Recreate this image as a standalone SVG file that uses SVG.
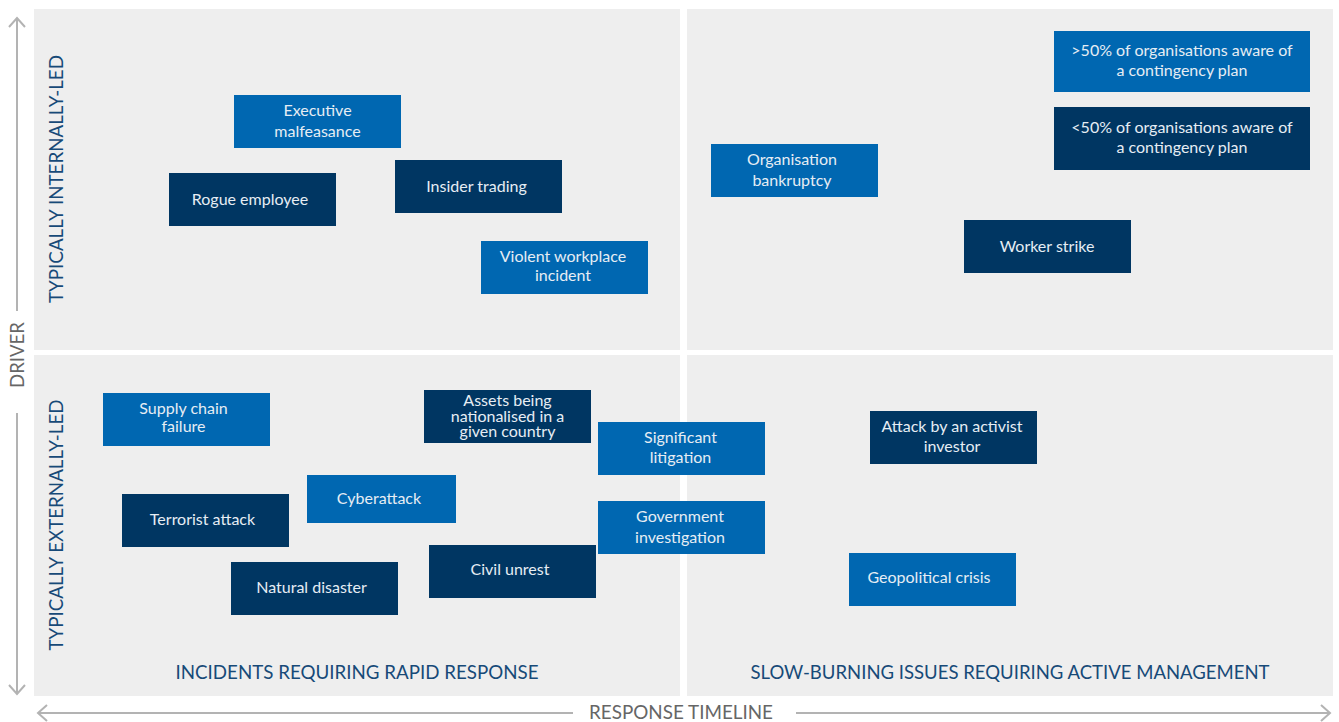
<svg xmlns="http://www.w3.org/2000/svg" width="1339" height="722" viewBox="0 0 1339 722">
  <style>
    .quad { fill: #eeeeee; }
    .mid { fill: #0067b1; }
    .dark { fill: #003662; }
    .lbl { font-family: Lato, "Liberation Sans", sans-serif; font-size: 16px; fill: #e6edf4; text-anchor: middle; }
    .title { font-family: Lato, "Liberation Sans", sans-serif; font-size: 19.5px; fill: #174a78; text-anchor: middle; }
    .axis-lbl { font-family: Lato, "Liberation Sans", sans-serif; font-size: 19px; fill: #666666; text-anchor: middle; }
    .axis { stroke: #b3b3b3; stroke-width: 2; fill: none; }
  </style>

  <rect width="1339" height="722" fill="#ffffff"/>

  <!-- four quadrants -->
  <g id="quadrants">
    <rect class="quad" x="34" y="9" width="646" height="341"/>
    <rect class="quad" x="687" y="9" width="646" height="341"/>
    <rect class="quad" x="34" y="355" width="646" height="341"/>
    <rect class="quad" x="687" y="355" width="646" height="341"/>
  </g>

  <!-- axes with open arrowheads -->
  <g id="axes">
    <path class="axis" d="M17 18 V311 M17 413 V693"/>
    <path class="axis" d="M9 27 L17 18 L25 27"/>
    <path class="axis" d="M9 685 L17 694 L25 685"/>
    <path class="axis" d="M38 713 H573 M796 713 H1330"/>
    <path class="axis" d="M47 705 L38 713 L47 721"/>
    <path class="axis" d="M1321 705 L1330 713 L1321 721"/>
    <text class="axis-lbl" transform="translate(24 355) rotate(-90)" textLength="66" lengthAdjust="spacingAndGlyphs">DRIVER</text>
    <text class="axis-lbl" x="681" y="719" textLength="184" lengthAdjust="spacingAndGlyphs">RESPONSE TIMELINE</text>
  </g>

  <!-- quadrant titles -->
  <g id="titles">
    <text class="title" transform="translate(63 179) rotate(-90)" textLength="248" lengthAdjust="spacingAndGlyphs">TYPICALLY INTERNALLY-LED</text>
    <text class="title" transform="translate(63 525) rotate(-90)" textLength="251" lengthAdjust="spacingAndGlyphs">TYPICALLY EXTERNALLY-LED</text>
    <text class="title" x="357" y="679" textLength="363" lengthAdjust="spacingAndGlyphs">INCIDENTS REQUIRING RAPID RESPONSE</text>
    <text class="title" x="1010" y="679" textLength="519" lengthAdjust="spacingAndGlyphs">SLOW-BURNING ISSUES REQUIRING ACTIVE MANAGEMENT</text>
  </g>

  <!-- legend -->
  <g id="legend-high">
    <rect class="mid" x="1054" y="31" width="256" height="61"/>
    <text class="lbl" x="1182" y="55.5">&gt;50% of organisations aware of</text>
    <text class="lbl" x="1182" y="75.5">a contingency plan</text>
  </g>
  <g id="legend-low">
    <rect class="dark" x="1054" y="107" width="256" height="63"/>
    <text class="lbl" x="1182" y="132.5">&lt;50% of organisations aware of</text>
    <text class="lbl" x="1182" y="152.5">a contingency plan</text>
  </g>

  <!-- internally-led, rapid response -->
  <g id="executive-malfeasance">
    <rect class="mid" x="234" y="95" width="167" height="53"/>
    <text class="lbl" x="317.5" y="116">Executive</text>
    <text class="lbl" x="317.5" y="137">malfeasance</text>
  </g>
  <g id="rogue-employee">
    <rect class="dark" x="169" y="173" width="167" height="53"/>
    <text class="lbl" x="250" y="205">Rogue employee</text>
  </g>
  <g id="insider-trading">
    <rect class="dark" x="395" y="160" width="167" height="53"/>
    <text class="lbl" x="476.5" y="192">Insider trading</text>
  </g>
  <g id="violent-workplace-incident">
    <rect class="mid" x="481" y="241" width="167" height="53"/>
    <text class="lbl" x="563" y="262">Violent workplace</text>
    <text class="lbl" x="563" y="281">incident</text>
  </g>

  <!-- internally-led, active management -->
  <g id="organisation-bankruptcy">
    <rect class="mid" x="711" y="144" width="167" height="53"/>
    <text class="lbl" x="792" y="165">Organisation</text>
    <text class="lbl" x="792" y="186">bankruptcy</text>
  </g>
  <g id="worker-strike">
    <rect class="dark" x="964" y="220" width="167" height="53"/>
    <text class="lbl" x="1047" y="252">Worker strike</text>
  </g>

  <!-- externally-led, rapid response -->
  <g id="supply-chain-failure">
    <rect class="mid" x="103" y="393" width="167" height="53"/>
    <text class="lbl" x="183.5" y="414">Supply chain</text>
    <text class="lbl" x="183.5" y="432">failure</text>
  </g>
  <g id="assets-nationalised">
    <rect class="dark" x="424" y="390" width="167" height="53"/>
    <text class="lbl" x="507.5" y="406">Assets being</text>
    <text class="lbl" x="507.5" y="421.5">nationalised in a</text>
    <text class="lbl" x="507.5" y="437">given country</text>
  </g>
  <g id="cyberattack">
    <rect class="mid" x="307" y="475" width="149" height="48"/>
    <text class="lbl" x="379" y="504">Cyberattack</text>
  </g>
  <g id="terrorist-attack">
    <rect class="dark" x="122" y="494" width="167" height="53"/>
    <text class="lbl" x="202.5" y="525">Terrorist attack</text>
  </g>
  <g id="natural-disaster">
    <rect class="dark" x="231" y="562" width="167" height="53"/>
    <text class="lbl" x="311.5" y="593">Natural disaster</text>
  </g>
  <g id="civil-unrest">
    <rect class="dark" x="429" y="545" width="167" height="53"/>
    <text class="lbl" x="510" y="575">Civil unrest</text>
  </g>

  <!-- externally-led, straddling and active management -->
  <g id="significant-litigation">
    <rect class="mid" x="598" y="422" width="167" height="53"/>
    <text class="lbl" x="680.5" y="443">Significant</text>
    <text class="lbl" x="680.5" y="463">litigation</text>
  </g>
  <g id="government-investigation">
    <rect class="mid" x="598" y="501" width="167" height="53"/>
    <text class="lbl" x="680" y="522">Government</text>
    <text class="lbl" x="680" y="543">investigation</text>
  </g>
  <g id="activist-investor">
    <rect class="dark" x="870" y="411" width="167" height="53"/>
    <text class="lbl" x="952" y="432">Attack by an activist</text>
    <text class="lbl" x="952" y="452">investor</text>
  </g>
  <g id="geopolitical-crisis">
    <rect class="mid" x="849" y="553" width="167" height="53"/>
    <text class="lbl" x="929" y="583">Geopolitical crisis</text>
  </g>
</svg>
